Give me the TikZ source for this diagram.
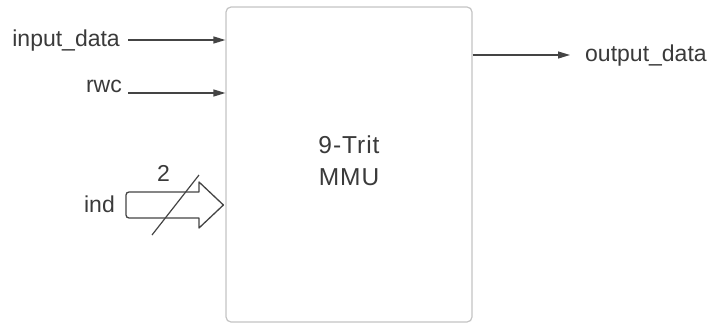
\documentclass[tikz,border=0pt]{standalone}
\usepackage{fontspec}
\setmainfont{Liberation Sans}
\usetikzlibrary{arrows.meta}
\definecolor{txt}{HTML}{3A3A3A}
\definecolor{wire}{HTML}{444444}
\definecolor{boxline}{HTML}{C4C4C4}
\tikzset{
  lbl/.style={inner sep=0pt, text=txt, font=\fontsize{23}{28}\selectfont},
  wirearrow/.style={draw=wire, line width=1.2pt, -{Triangle[length=12pt,width=7pt]}},
  mmubox/.style={draw=boxline, line width=1.2pt, rounded corners=5pt, fill=white, inner sep=0pt},
  busarrow/.style={draw=wire, line width=1.3pt, fill=white, line join=round},
}
\begin{document}
\begin{tikzpicture}[x=1pt,y=-1pt]
\useasboundingbox (0,0) rectangle (708,324);
% main block
\node[mmubox, minimum width=246pt, minimum height=315pt] (box) at (349,164.5) {};
\node[inner sep=0pt, align=center, text=txt,
      font=\fontsize{24.5}{32}\selectfont\addfontfeatures{LetterSpace=4}]
      (title) at (349,161) {9-Trit\\MMU};
% labels
\node[lbl, anchor=base east] (lin) at (120,46) {input\_data};
\node[lbl, anchor=base east] (lrwc) at (122,92) {rwc};
\node[lbl, anchor=base east] (lind) at (115,212) {ind};
\node[lbl, anchor=base] (lwidth) at (163.5,181) {2};
\node[lbl, anchor=base west] (lout) at (585,61) {output\_data};
% wire endpoints
\coordinate (sin) at (128,40);
\coordinate (srwc) at (128,93);
\coordinate (eout) at (570,55);
\draw[wirearrow] (sin) -- (sin -| box.west);
\draw[wirearrow] (srwc) -- (srwc -| box.west);
\draw[wirearrow] (box.east |- eout) -- (eout);
% bus arrow (ind)
\coordinate (indtip) at (box.west |- 0,205);
\draw[busarrow] (199,192) -- (129,192) arc[start angle=90,end angle=180,radius=3pt]
  -- (126,215) arc[start angle=180,end angle=270,radius=3pt]
  -- (199,218) -- (199,228) -- ([xshift=-2pt]indtip) -- (199,182) -- cycle;
\draw[draw=wire, line width=1.2pt] (152,235) -- (199,175);
\end{tikzpicture}
\end{document}
